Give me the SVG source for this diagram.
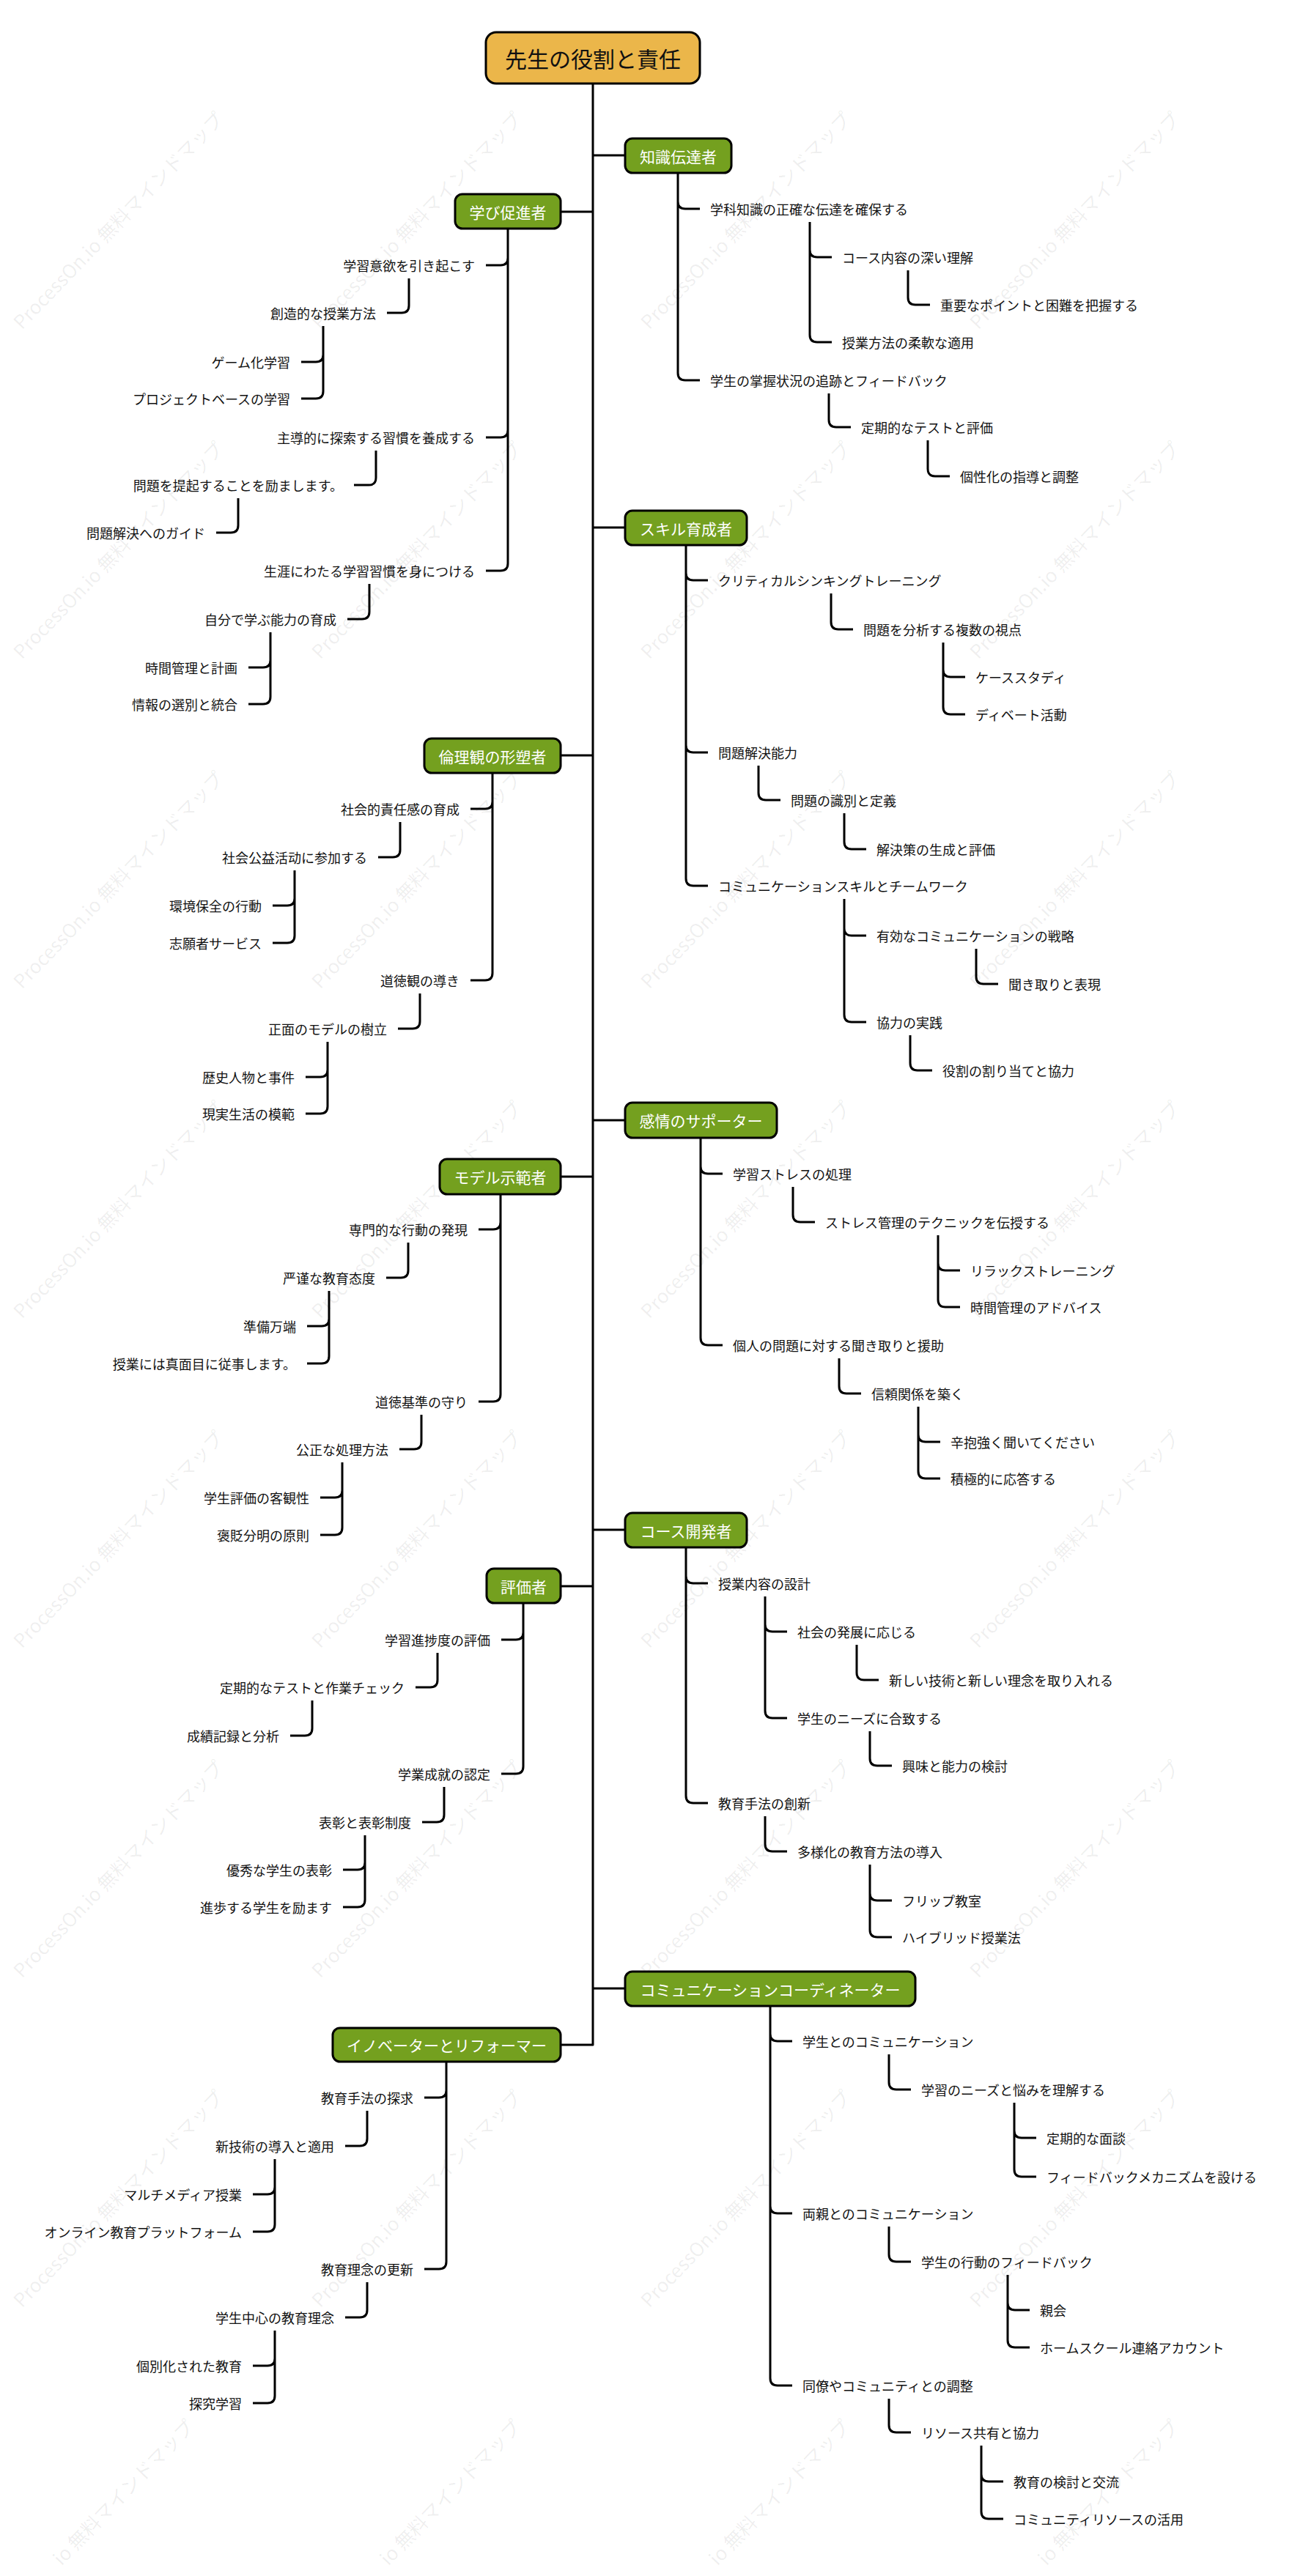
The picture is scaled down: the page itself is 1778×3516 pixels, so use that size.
<svg xmlns="http://www.w3.org/2000/svg" width="1778" height="3516" viewBox="0 0 1778 3516">
<style>
.c{fill:none;stroke:#000;stroke-width:3;stroke-linejoin:round}
.t{font-family:"Noto Sans CJK JP","Noto Sans",sans-serif;font-size:18px;fill:#111;dominant-baseline:central}
.l{text-anchor:end}
.mb{fill:#74A01F;stroke:#000;stroke-width:3}
.mt{font-family:"Noto Sans CJK JP","Noto Sans",sans-serif;font-size:21px;fill:#fff;text-anchor:middle;dominant-baseline:central}
.rb{fill:#EBB64A;stroke:#000;stroke-width:3}
.rt{font-family:"Noto Sans CJK JP","Noto Sans",sans-serif;font-size:30px;fill:#111;text-anchor:middle;dominant-baseline:central}
.wm{font-family:"Noto Sans CJK JP","Noto Sans",sans-serif;font-size:26px;fill:#000;fill-opacity:0.07}
</style>
<rect width="1778" height="3516" fill="#fff"/>
<g id="watermark">
<text class="wm" transform="translate(30,451) rotate(-46)">ProcessOn.io 無料マインドマップ</text>
<text class="wm" transform="translate(437,451) rotate(-46)">ProcessOn.io 無料マインドマップ</text>
<text class="wm" transform="translate(886,451) rotate(-46)">ProcessOn.io 無料マインドマップ</text>
<text class="wm" transform="translate(1335,451) rotate(-46)">ProcessOn.io 無料マインドマップ</text>
<text class="wm" transform="translate(30,901) rotate(-46)">ProcessOn.io 無料マインドマップ</text>
<text class="wm" transform="translate(437,901) rotate(-46)">ProcessOn.io 無料マインドマップ</text>
<text class="wm" transform="translate(886,901) rotate(-46)">ProcessOn.io 無料マインドマップ</text>
<text class="wm" transform="translate(1335,901) rotate(-46)">ProcessOn.io 無料マインドマップ</text>
<text class="wm" transform="translate(30,1351) rotate(-46)">ProcessOn.io 無料マインドマップ</text>
<text class="wm" transform="translate(437,1351) rotate(-46)">ProcessOn.io 無料マインドマップ</text>
<text class="wm" transform="translate(886,1351) rotate(-46)">ProcessOn.io 無料マインドマップ</text>
<text class="wm" transform="translate(1335,1351) rotate(-46)">ProcessOn.io 無料マインドマップ</text>
<text class="wm" transform="translate(30,1801) rotate(-46)">ProcessOn.io 無料マインドマップ</text>
<text class="wm" transform="translate(437,1801) rotate(-46)">ProcessOn.io 無料マインドマップ</text>
<text class="wm" transform="translate(886,1801) rotate(-46)">ProcessOn.io 無料マインドマップ</text>
<text class="wm" transform="translate(1335,1801) rotate(-46)">ProcessOn.io 無料マインドマップ</text>
<text class="wm" transform="translate(30,2251) rotate(-46)">ProcessOn.io 無料マインドマップ</text>
<text class="wm" transform="translate(437,2251) rotate(-46)">ProcessOn.io 無料マインドマップ</text>
<text class="wm" transform="translate(886,2251) rotate(-46)">ProcessOn.io 無料マインドマップ</text>
<text class="wm" transform="translate(1335,2251) rotate(-46)">ProcessOn.io 無料マインドマップ</text>
<text class="wm" transform="translate(30,2701) rotate(-46)">ProcessOn.io 無料マインドマップ</text>
<text class="wm" transform="translate(437,2701) rotate(-46)">ProcessOn.io 無料マインドマップ</text>
<text class="wm" transform="translate(886,2701) rotate(-46)">ProcessOn.io 無料マインドマップ</text>
<text class="wm" transform="translate(1335,2701) rotate(-46)">ProcessOn.io 無料マインドマップ</text>
<text class="wm" transform="translate(30,3151) rotate(-46)">ProcessOn.io 無料マインドマップ</text>
<text class="wm" transform="translate(437,3151) rotate(-46)">ProcessOn.io 無料マインドマップ</text>
<text class="wm" transform="translate(886,3151) rotate(-46)">ProcessOn.io 無料マインドマップ</text>
<text class="wm" transform="translate(1335,3151) rotate(-46)">ProcessOn.io 無料マインドマップ</text>
<text class="wm" transform="translate(84,3503) rotate(-46)">io 無料マインドマップ</text>
<text class="wm" transform="translate(530,3503) rotate(-46)">io 無料マインドマップ</text>
<text class="wm" transform="translate(979,3503) rotate(-46)">io 無料マインドマップ</text>
<text class="wm" transform="translate(1428,3503) rotate(-46)">io 無料マインドマップ</text>
</g>
<g id="connectors">
<path class="c" d="M809 114 V2791 H765 M809 212 H853 M809 289 H765 M809 720 H853 M809 1031 H765 M809 1529 H853 M809 1606 H765 M809 2088 H853 M809 2165 H765 M809 2714 H853"/>
<path class="c" d="M925 236 V275 Q925 285 935 285 H955 M925 236 V509 Q925 519 935 519 H955"/>
<path class="c" d="M1105 303 V341 Q1105 351 1115 351 H1135 M1105 303 V457 Q1105 467 1115 467 H1135"/>
<path class="c" d="M1239 369 V406 Q1239 416 1249 416 H1269"/>
<path class="c" d="M1131 537 V573 Q1131 583 1141 583 H1161"/>
<path class="c" d="M1266 601 V640 Q1266 650 1276 650 H1296"/>
<path class="c" d="M936 744 V782 Q936 792 946 792 H966 M936 744 V1017 Q936 1027 946 1027 H966 M936 744 V1199 Q936 1209 946 1209 H966"/>
<path class="c" d="M1134 810 V849 Q1134 859 1144 859 H1164"/>
<path class="c" d="M1287 877 V914 Q1287 924 1297 924 H1317 M1287 877 V965 Q1287 975 1297 975 H1317"/>
<path class="c" d="M1035 1045 V1082 Q1035 1092 1045 1092 H1065"/>
<path class="c" d="M1152 1110 V1149 Q1152 1159 1162 1159 H1182"/>
<path class="c" d="M1152 1227 V1267 Q1152 1277 1162 1277 H1182 M1152 1227 V1385 Q1152 1395 1162 1395 H1182"/>
<path class="c" d="M1332 1295 V1333 Q1332 1343 1342 1343 H1362"/>
<path class="c" d="M1242 1413 V1451 Q1242 1461 1252 1461 H1272"/>
<path class="c" d="M956 1553 V1592 Q956 1602 966 1602 H986 M956 1553 V1826 Q956 1836 966 1836 H986"/>
<path class="c" d="M1082 1620 V1658 Q1082 1668 1092 1668 H1112"/>
<path class="c" d="M1280 1686 V1724 Q1280 1734 1290 1734 H1310 M1280 1686 V1774 Q1280 1784 1290 1784 H1310"/>
<path class="c" d="M1145 1854 V1892 Q1145 1902 1155 1902 H1175"/>
<path class="c" d="M1253 1920 V1958 Q1253 1968 1263 1968 H1283 M1253 1920 V2008 Q1253 2018 1263 2018 H1283"/>
<path class="c" d="M936 2112 V2151 Q936 2161 946 2161 H966 M936 2112 V2451 Q936 2461 946 2461 H966"/>
<path class="c" d="M1044 2179 V2217 Q1044 2227 1054 2227 H1074 M1044 2179 V2335 Q1044 2345 1054 2345 H1074"/>
<path class="c" d="M1169 2245 V2283 Q1169 2293 1179 2293 H1199"/>
<path class="c" d="M1187 2363 V2400 Q1187 2410 1197 2410 H1217"/>
<path class="c" d="M1044 2479 V2517 Q1044 2527 1054 2527 H1074"/>
<path class="c" d="M1187 2545 V2584 Q1187 2594 1197 2594 H1217 M1187 2545 V2634 Q1187 2644 1197 2644 H1217"/>
<path class="c" d="M1051 2738 V2776 Q1051 2786 1061 2786 H1081 M1051 2738 V3011 Q1051 3021 1061 3021 H1081 M1051 2738 V3246 Q1051 3256 1061 3256 H1081"/>
<path class="c" d="M1213 2804 V2842 Q1213 2852 1223 2852 H1243"/>
<path class="c" d="M1384 2870 V2908 Q1384 2918 1394 2918 H1414 M1384 2870 V2961 Q1384 2971 1394 2971 H1414"/>
<path class="c" d="M1213 3039 V3077 Q1213 3087 1223 3087 H1243"/>
<path class="c" d="M1375 3105 V3143 Q1375 3153 1385 3153 H1405 M1375 3105 V3194 Q1375 3204 1385 3204 H1405"/>
<path class="c" d="M1213 3274 V3310 Q1213 3320 1223 3320 H1243"/>
<path class="c" d="M1339 3338 V3377 Q1339 3387 1349 3387 H1369 M1339 3338 V3428 Q1339 3438 1349 3438 H1369"/>
<path class="c" d="M693 312 V352 Q693 362 683 362 H663 M693 312 V587 Q693 597 683 597 H663 M693 312 V769 Q693 779 683 779 H663"/>
<path class="c" d="M558 380 V417 Q558 427 548 427 H528"/>
<path class="c" d="M441 445 V484 Q441 494 431 494 H411 M441 445 V534 Q441 544 431 544 H411"/>
<path class="c" d="M513 615 V652 Q513 662 503 662 H483"/>
<path class="c" d="M325 680 V717 Q325 727 315 727 H295"/>
<path class="c" d="M504 797 V835 Q504 845 494 845 H474"/>
<path class="c" d="M369 863 V901 Q369 911 359 911 H339 M369 863 V951 Q369 961 359 961 H339"/>
<path class="c" d="M672 1055 V1094 Q672 1104 662 1104 H642 M672 1055 V1328 Q672 1338 662 1338 H642"/>
<path class="c" d="M546 1122 V1160 Q546 1170 536 1170 H516"/>
<path class="c" d="M402 1188 V1226 Q402 1236 392 1236 H372 M402 1188 V1277 Q402 1287 392 1287 H372"/>
<path class="c" d="M573 1356 V1394 Q573 1404 563 1404 H543"/>
<path class="c" d="M447 1422 V1460 Q447 1470 437 1470 H417 M447 1422 V1510 Q447 1520 437 1520 H417"/>
<path class="c" d="M683 1630 V1668 Q683 1678 673 1678 H653 M683 1630 V1903 Q683 1913 673 1913 H653"/>
<path class="c" d="M557 1696 V1734 Q557 1744 547 1744 H527"/>
<path class="c" d="M449 1762 V1800 Q449 1810 439 1810 H419 M449 1762 V1851 Q449 1861 439 1861 H419"/>
<path class="c" d="M575 1931 V1968 Q575 1978 565 1978 H545"/>
<path class="c" d="M467 1996 V2034 Q467 2044 457 2044 H437 M467 1996 V2085 Q467 2095 457 2095 H437"/>
<path class="c" d="M714 2188 V2228 Q714 2238 704 2238 H684 M714 2188 V2411 Q714 2421 704 2421 H684"/>
<path class="c" d="M597 2256 V2293 Q597 2303 587 2303 H567"/>
<path class="c" d="M426 2321 V2359 Q426 2369 416 2369 H396"/>
<path class="c" d="M606 2439 V2477 Q606 2487 596 2487 H576"/>
<path class="c" d="M498 2505 V2542 Q498 2552 488 2552 H468 M498 2505 V2593 Q498 2603 488 2603 H468"/>
<path class="c" d="M609 2814 V2853 Q609 2863 599 2863 H579 M609 2814 V3087 Q609 3097 599 3097 H579"/>
<path class="c" d="M501 2881 V2919 Q501 2929 491 2929 H471"/>
<path class="c" d="M375 2947 V2985 Q375 2995 365 2995 H345 M375 2947 V3036 Q375 3046 365 3046 H345"/>
<path class="c" d="M501 3115 V3153 Q501 3163 491 3163 H471"/>
<path class="c" d="M375 3181 V3219 Q375 3229 365 3229 H345 M375 3181 V3270 Q375 3280 365 3280 H345"/>
</g>
<g id="root"><rect class="rb" x="663" y="44" width="292" height="70" rx="14"/><text class="rt" x="809" y="79">先生の役割と責任</text></g>
<g id="n-A"><rect class="mb" x="853" y="189" width="145" height="47" rx="10"/><text class="mt" x="925.5" y="212.5">知識伝達者</text></g>
<g id="n-A1"><text class="t" x="969" y="285">学科知識の正確な伝達を確保する</text></g>
<g id="n-A11"><text class="t" x="1149" y="351">コース内容の深い理解</text></g>
<g id="n-A111"><text class="t" x="1283" y="416">重要なポイントと困難を把握する</text></g>
<g id="n-A12"><text class="t" x="1149" y="467">授業方法の柔軟な適用</text></g>
<g id="n-A2"><text class="t" x="969" y="519">学生の掌握状況の追跡とフィードバック</text></g>
<g id="n-A21"><text class="t" x="1175" y="583">定期的なテストと評価</text></g>
<g id="n-A211"><text class="t" x="1310" y="650">個性化の指導と調整</text></g>
<g id="n-B"><rect class="mb" x="853" y="697" width="166" height="47" rx="10"/><text class="mt" x="936" y="720.5">スキル育成者</text></g>
<g id="n-B1"><text class="t" x="980" y="792">クリティカルシンキングトレーニング</text></g>
<g id="n-B11"><text class="t" x="1178" y="859">問題を分析する複数の視点</text></g>
<g id="n-B111"><text class="t" x="1331" y="924">ケーススタディ</text></g>
<g id="n-B112"><text class="t" x="1331" y="975">ディベート活動</text></g>
<g id="n-B2"><text class="t" x="980" y="1027">問題解決能力</text></g>
<g id="n-B21"><text class="t" x="1079" y="1092">問題の識別と定義</text></g>
<g id="n-B211"><text class="t" x="1196" y="1159">解決策の生成と評価</text></g>
<g id="n-B3"><text class="t" x="980" y="1209">コミュニケーションスキルとチームワーク</text></g>
<g id="n-B31"><text class="t" x="1196" y="1277">有効なコミュニケーションの戦略</text></g>
<g id="n-B311"><text class="t" x="1376" y="1343">聞き取りと表現</text></g>
<g id="n-B32"><text class="t" x="1196" y="1395">協力の実践</text></g>
<g id="n-B321"><text class="t" x="1286" y="1461">役割の割り当てと協力</text></g>
<g id="n-C"><rect class="mb" x="853" y="1505" width="207" height="48" rx="10"/><text class="mt" x="956.5" y="1529">感情のサポーター</text></g>
<g id="n-C1"><text class="t" x="1000" y="1602">学習ストレスの処理</text></g>
<g id="n-C11"><text class="t" x="1126" y="1668">ストレス管理のテクニックを伝授する</text></g>
<g id="n-C111"><text class="t" x="1324" y="1734">リラックストレーニング</text></g>
<g id="n-C112"><text class="t" x="1324" y="1784">時間管理のアドバイス</text></g>
<g id="n-C2"><text class="t" x="1000" y="1836">個人の問題に対する聞き取りと援助</text></g>
<g id="n-C21"><text class="t" x="1189" y="1902">信頼関係を築く</text></g>
<g id="n-C211"><text class="t" x="1297" y="1968">辛抱強く聞いてください</text></g>
<g id="n-C212"><text class="t" x="1297" y="2018">積極的に応答する</text></g>
<g id="n-D"><rect class="mb" x="853" y="2065" width="166" height="47" rx="10"/><text class="mt" x="936" y="2088.5">コース開発者</text></g>
<g id="n-D1"><text class="t" x="980" y="2161">授業内容の設計</text></g>
<g id="n-D11"><text class="t" x="1088" y="2227">社会の発展に応じる</text></g>
<g id="n-D111"><text class="t" x="1213" y="2293">新しい技術と新しい理念を取り入れる</text></g>
<g id="n-D12"><text class="t" x="1088" y="2345">学生のニーズに合致する</text></g>
<g id="n-D121"><text class="t" x="1231" y="2410">興味と能力の検討</text></g>
<g id="n-D2"><text class="t" x="980" y="2461">教育手法の創新</text></g>
<g id="n-D21"><text class="t" x="1088" y="2527">多様化の教育方法の導入</text></g>
<g id="n-D211"><text class="t" x="1231" y="2594">フリップ教室</text></g>
<g id="n-D212"><text class="t" x="1231" y="2644">ハイブリッド授業法</text></g>
<g id="n-E"><rect class="mb" x="853" y="2691" width="396" height="47" rx="10"/><text class="mt" x="1051" y="2714.5">コミュニケーションコーディネーター</text></g>
<g id="n-E1"><text class="t" x="1095" y="2786">学生とのコミュニケーション</text></g>
<g id="n-E11"><text class="t" x="1257" y="2852">学習のニーズと悩みを理解する</text></g>
<g id="n-E111"><text class="t" x="1428" y="2918">定期的な面談</text></g>
<g id="n-E112"><text class="t" x="1428" y="2971">フィードバックメカニズムを設ける</text></g>
<g id="n-E2"><text class="t" x="1095" y="3021">両親とのコミュニケーション</text></g>
<g id="n-E21"><text class="t" x="1257" y="3087">学生の行動のフィードバック</text></g>
<g id="n-E211"><text class="t" x="1419" y="3153">親会</text></g>
<g id="n-E212"><text class="t" x="1419" y="3204">ホームスクール連絡アカウント</text></g>
<g id="n-E3"><text class="t" x="1095" y="3256">同僚やコミュニティとの調整</text></g>
<g id="n-E31"><text class="t" x="1257" y="3320">リソース共有と協力</text></g>
<g id="n-E311"><text class="t" x="1383" y="3387">教育の検討と交流</text></g>
<g id="n-E312"><text class="t" x="1383" y="3438">コミュニティリソースの活用</text></g>
<g id="n-F"><rect class="mb" x="621" y="265" width="144" height="47" rx="10"/><text class="mt" x="693" y="288.5">学び促進者</text></g>
<g id="n-F1"><text class="t l" x="648" y="362">学習意欲を引き起こす</text></g>
<g id="n-F11"><text class="t l" x="513" y="427">創造的な授業方法</text></g>
<g id="n-F111"><text class="t l" x="396" y="494">ゲーム化学習</text></g>
<g id="n-F112"><text class="t l" x="396" y="544">プロジェクトベースの学習</text></g>
<g id="n-F2"><text class="t l" x="648" y="597">主導的に探索する習慣を養成する</text></g>
<g id="n-F21"><text class="t l" x="468" y="662">問題を提起することを励まします。</text></g>
<g id="n-F211"><text class="t l" x="280" y="727">問題解決へのガイド</text></g>
<g id="n-F3"><text class="t l" x="648" y="779">生涯にわたる学習習慣を身につける</text></g>
<g id="n-F31"><text class="t l" x="459" y="845">自分で学ぶ能力の育成</text></g>
<g id="n-F311"><text class="t l" x="324" y="911">時間管理と計画</text></g>
<g id="n-F312"><text class="t l" x="324" y="961">情報の選別と統合</text></g>
<g id="n-G"><rect class="mb" x="579" y="1008" width="186" height="47" rx="10"/><text class="mt" x="672" y="1031.5">倫理観の形塑者</text></g>
<g id="n-G1"><text class="t l" x="627" y="1104">社会的責任感の育成</text></g>
<g id="n-G11"><text class="t l" x="501" y="1170">社会公益活动に参加する</text></g>
<g id="n-G111"><text class="t l" x="357" y="1236">環境保全の行動</text></g>
<g id="n-G112"><text class="t l" x="357" y="1287">志願者サービス</text></g>
<g id="n-G2"><text class="t l" x="627" y="1338">道徳観の導き</text></g>
<g id="n-G21"><text class="t l" x="528" y="1404">正面のモデルの樹立</text></g>
<g id="n-G211"><text class="t l" x="402" y="1470">歴史人物と事件</text></g>
<g id="n-G212"><text class="t l" x="402" y="1520">現実生活の模範</text></g>
<g id="n-H"><rect class="mb" x="600" y="1582" width="165" height="48" rx="10"/><text class="mt" x="682.5" y="1606">モデル示範者</text></g>
<g id="n-H1"><text class="t l" x="638" y="1678">専門的な行動の発現</text></g>
<g id="n-H11"><text class="t l" x="512" y="1744">严谨な教育态度</text></g>
<g id="n-H111"><text class="t l" x="404" y="1810">準備万端</text></g>
<g id="n-H112"><text class="t l" x="404" y="1861">授業には真面目に従事します。</text></g>
<g id="n-H2"><text class="t l" x="638" y="1913">道徳基準の守り</text></g>
<g id="n-H21"><text class="t l" x="530" y="1978">公正な処理方法</text></g>
<g id="n-H211"><text class="t l" x="422" y="2044">学生評価の客観性</text></g>
<g id="n-H212"><text class="t l" x="422" y="2095">褒貶分明の原則</text></g>
<g id="n-I"><rect class="mb" x="664" y="2141" width="101" height="47" rx="10"/><text class="mt" x="714.5" y="2164.5">評価者</text></g>
<g id="n-I1"><text class="t l" x="669" y="2238">学習進捗度の評価</text></g>
<g id="n-I11"><text class="t l" x="552" y="2303">定期的なテストと作業チェック</text></g>
<g id="n-I111"><text class="t l" x="381" y="2369">成績記録と分析</text></g>
<g id="n-I2"><text class="t l" x="669" y="2421">学業成就の認定</text></g>
<g id="n-I21"><text class="t l" x="561" y="2487">表彰と表彰制度</text></g>
<g id="n-I211"><text class="t l" x="453" y="2552">優秀な学生の表彰</text></g>
<g id="n-I212"><text class="t l" x="453" y="2603">進歩する学生を励ます</text></g>
<g id="n-J"><rect class="mb" x="454" y="2768" width="311" height="46" rx="10"/><text class="mt" x="609.5" y="2791">イノベーターとリフォーマー</text></g>
<g id="n-J1"><text class="t l" x="564" y="2863">教育手法の探求</text></g>
<g id="n-J11"><text class="t l" x="456" y="2929">新技術の導入と適用</text></g>
<g id="n-J111"><text class="t l" x="330" y="2995">マルチメディア授業</text></g>
<g id="n-J112"><text class="t l" x="330" y="3046">オンライン教育プラットフォーム</text></g>
<g id="n-J2"><text class="t l" x="564" y="3097">教育理念の更新</text></g>
<g id="n-J21"><text class="t l" x="456" y="3163">学生中心の教育理念</text></g>
<g id="n-J211"><text class="t l" x="330" y="3229">個別化された教育</text></g>
<g id="n-J212"><text class="t l" x="330" y="3280">探究学習</text></g>
</svg>
